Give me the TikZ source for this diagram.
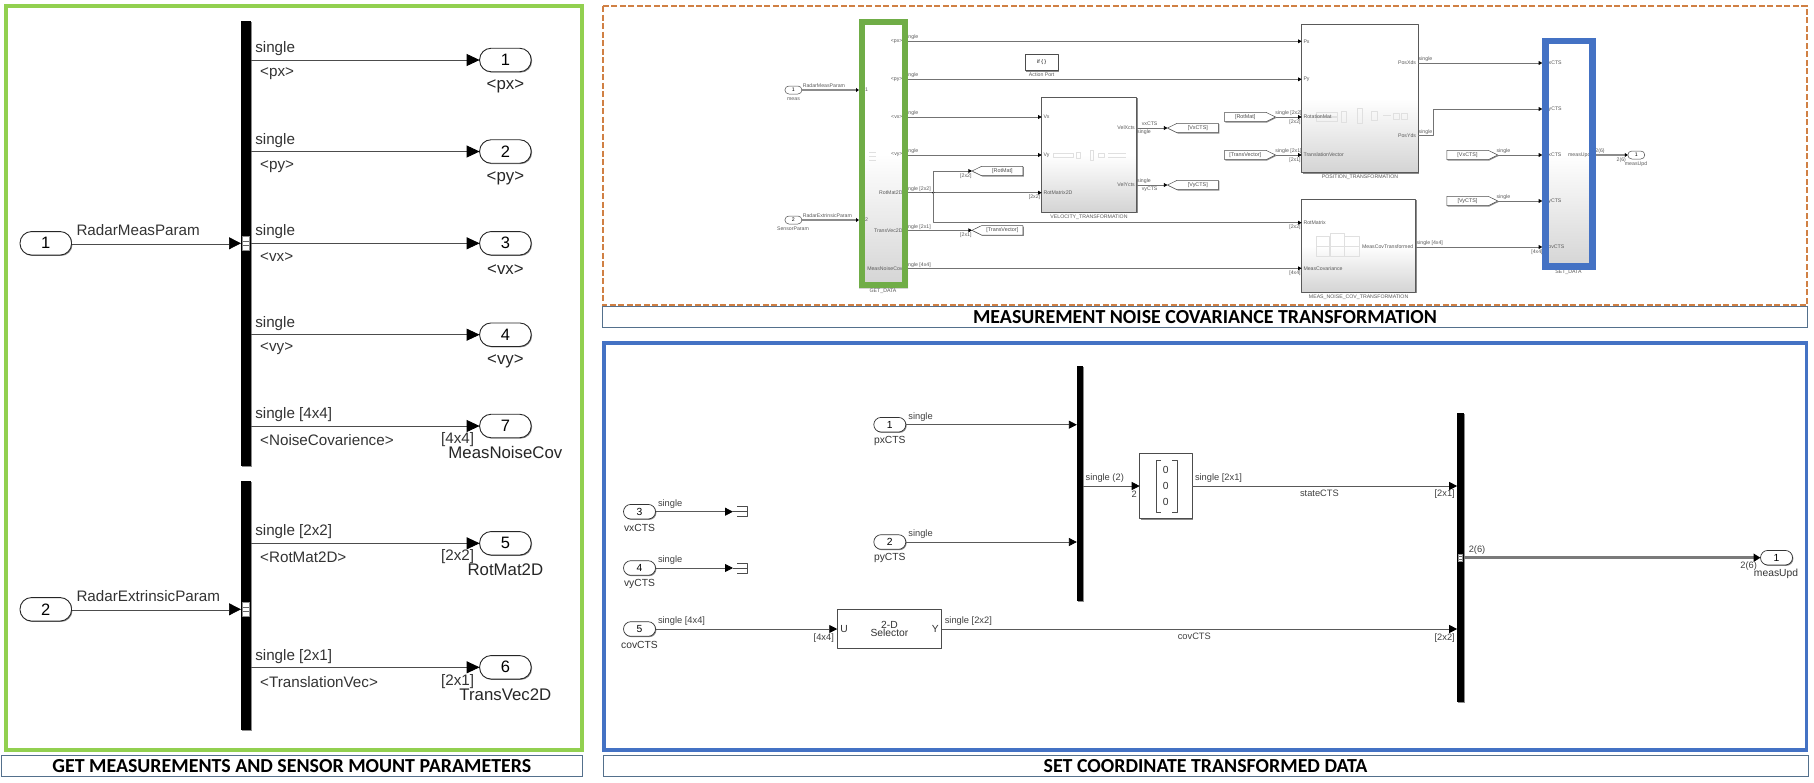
\documentclass[tikz,border=0pt]{standalone}
\usepackage{xcolor}
\usepackage{fontspec}
\setmainfont{Liberation Sans}
\newfontfamily\titlefont{Carlito}
\usepackage{tikz}
\usetikzlibrary{arrows.meta,calc,shadows,shapes.symbols}
\definecolor{panelgreen}{RGB}{146,208,80}
\definecolor{getgreen}{RGB}{112,173,71}
\definecolor{setblue}{RGB}{68,114,196}
\definecolor{dashorange}{RGB}{208,128,68}
\definecolor{titleline}{RGB}{84,112,140}
\begin{document}
\begin{tikzpicture}[x=1pt,y=-1pt,>=Stealth,line join=round,
  every node/.style={inner sep=0pt,outer sep=0pt},
  lblL/.style={font=\fontsize{15.2}{15.2}\selectfont,text=black!80,yshift=-1.5pt},
  nameL/.style={font=\fontsize{16.8}{16.8}\selectfont,text=black!85},
  lblB/.style={font=\fontsize{9.3}{9.3}\selectfont,text=black!75},
  nameB/.style={font=\fontsize{10.3}{10.3}\selectfont,text=black!80},
  lblT/.style={font=\fontsize{5.2}{5.2}\selectfont,text=black!65},
  shadowed/.style={general shadow={shadow xshift=.9pt,shadow yshift=-.9pt,fill=black!45}},
  pillL/.style={rectangle,rounded corners=11.5pt,draw=black!85,line width=.9pt,fill=white,minimum width=51.6pt,minimum height=23.5pt,font=\fontsize{16.5}{16.5}\selectfont,shadowed},
  pillB/.style={rectangle,rounded corners=7.3pt,draw=black!80,line width=.7pt,fill=white,minimum width=32pt,minimum height=14.6pt,font=\fontsize{10.3}{10.3}\selectfont,shadowed},
  pillT/.style={rectangle,rounded corners=4pt,draw=black!70,line width=.5pt,fill=white,minimum width=17pt,minimum height=8pt,font=\fontsize{5.2}{5.2}\selectfont},
  barbox/.style={rectangle,fill=black,shadowed},
  portmark/.style={rectangle,fill=white,draw=black!45,line width=.4pt,minimum width=#1*.54pt,minimum height=#1*1pt,
    path picture={\draw[black!60,line width=.5pt] ([yshift=#1/6*1pt]path picture bounding box.west) -- ([yshift=#1/6*1pt]path picture bounding box.east);
      \draw[black!60,line width=.5pt] ([yshift=-#1/6*1pt]path picture bounding box.west) -- ([yshift=-#1/6*1pt]path picture bounding box.east);}},
  sigL/.style={-{Triangle[length=13pt,width=12pt,color=black]},line width=.9pt,draw=black!70},
  busL/.style={-{Triangle[length=12pt,width=12pt,color=black]},line width=.7pt,draw=black!70,double=white,double distance=1.7pt},
  sigB/.style={-{Triangle[length=8pt,width=8pt,color=black]},line width=.8pt,draw=black!65},
  busB/.style={-{Triangle[length=7pt,width=8pt,color=black]},line width=3pt,draw=black!52},
  sigT/.style={-{Triangle[length=3.6pt,width=3.8pt,color=black]},line width=.75pt,draw=black!55},
  busT/.style={-{Triangle[length=3pt,width=3.8pt,color=black]},line width=2.3pt,draw=black!45},
  graded/.style={rectangle,top color=white,bottom color=black!17,middle color=white},
  simblock/.style={graded,draw=black!65,line width=.7pt,shadowed},
  plainblock/.style={rectangle,draw=black!70,line width=.7pt,fill=white,shadowed},
  gotobox/.style={signal,signal to=west,signal pointer angle=52,draw=black!70,line width=.5pt,fill=white,minimum width=51pt,minimum height=9.4pt,font=\fontsize{5.4}{5.4}\selectfont,text=black!70,shadowed},
  frombox/.style={signal,signal to=east,signal pointer angle=52,draw=black!70,line width=.5pt,fill=white,minimum width=51pt,minimum height=9.4pt,font=\fontsize{5.4}{5.4}\selectfont,text=black!70,shadowed},
  faint/.style={draw=black!12,line width=.35pt},
  termline/.style={draw=black!70,line width=.7pt},
  panelline/.style={line join=miter},
  titlebox/.style={rectangle,draw=titleline,line width=.8pt,line join=miter,minimum height=21.7pt,font=\titlefont\bfseries\fontsize{19.9}{19.9}\selectfont}]
  \useasboundingbox (0,0) rectangle (1814,782);

  \draw[panelline,panelgreen,line width=4pt] (6,6.3) rectangle (582,749.7);
  \node[titlebox,minimum width=581.4pt] (titleget) at (291.8,765.8) {GET MEASUREMENTS AND SENSOR MOUNT PARAMETERS};
  \node[barbox,minimum width=10pt,minimum height=444.7pt] (bar1) at (246,243.35) {};
  \node[barbox,minimum width=10pt,minimum height=249.3pt] (bar2) at (246,605.35) {};
  \node[pillL] (in1) at (45.8,243.3) {1};
  \node[pillL] (in2) at (45.8,609.3) {2};
  \node[pillL] (out1) at (505.4,60) {1};
  \node[pillL] (out2) at (505.4,151.5) {2};
  \node[pillL] (out3) at (505.4,243.3) {3};
  \node[pillL] (out4) at (505.4,334.7) {4};
  \node[pillL] (out7) at (505.4,426) {7};
  \node[pillL] (out5) at (505.4,543.3) {5};
  \node[pillL] (out6) at (505.4,667.3) {6};
  \draw[busL] (in1.east) -- (bar1.west |- in1);
  \draw[busL] (in2.east) -- (bar2.west |- in2);
  \draw[sigL] (bar1.east |- out1) -- (out1.west);
  \draw[sigL] (bar1.east |- out2) -- (out2.west);
  \draw[sigL] (bar1.east |- out3) -- (out3.west);
  \draw[sigL] (bar1.east |- out4) -- (out4.west);
  \draw[sigL] (bar1.east |- out7) -- (out7.west);
  \draw[sigL] (bar2.east |- out5) -- (out5.west);
  \draw[sigL] (bar2.east |- out6) -- (out6.west);
  \node[portmark=14] (mark1) at (245.8,243.3) {};
  \node[portmark=14] (mark2) at (245.8,609.3) {};
  \node[lblL,anchor=west] (sigmeas) at (76.5,228.5) {RadarMeasParam};
  \node[lblL,anchor=west] (sigext) at (76.5,594.8) {RadarExtrinsicParam};
  \node[lblL,anchor=west] (s1) at (255.3,46.7) {single};
  \node[lblL,anchor=west] (s2) at (255.3,139) {single};
  \node[lblL,anchor=west] (s3) at (255.3,230.3) {single};
  \node[lblL,anchor=west] (s4) at (255.3,321.7) {single};
  \node[lblL,anchor=west] (s7) at (255.3,413) {single [4x4]};
  \node[lblL,anchor=west] (s5) at (255.3,530) {single [2x2]};
  \node[lblL,anchor=west] (s6) at (255.3,655) {single [2x1]};
  \node[lblL,anchor=west] (w1) at (260.2,72.3) {<px>};
  \node[lblL,anchor=west] (w2) at (260.2,164.7) {<py>};
  \node[lblL,anchor=west] (w3) at (260.2,255.7) {<vx>};
  \node[lblL,anchor=west] (w4) at (260.2,347) {<vy>};
  \node[lblL,anchor=west] (w7) at (260.2,438.3) {<NoiseCovarience>};
  \node[lblL,anchor=west] (w5) at (260.2,555.3) {<RotMat2D>};
  \node[lblL,anchor=west] (w6) at (260.2,680.7) {<TranslationVec>};
  \node[nameL] (n1) at (505.4,86) {<px>};
  \node[nameL] (n2) at (505.4,178.7) {<py>};
  \node[nameL] (n3) at (505.4,269.7) {<vx>};
  \node[nameL] (n4) at (505.4,361) {<vy>};
  \node[nameL] (n7) at (505.4,452.3) {MeasNoiseCov};
  \node[nameL] (n5) at (505.4,569.3) {RotMat2D};
  \node[nameL] (n6) at (505.4,694.7) {TransVec2D};
  \node[lblL,anchor=west] (d7) at (441.2,438.5) {[4x4]};
  \node[lblL,anchor=west] (d5) at (441.2,555.2) {[2x2]};
  \node[lblL,anchor=west] (d6) at (441.2,680.5) {[2x1]};

  \node[graded,minimum width=49pt,minimum height=269pt] (getdata) at (883.5,153.5) {};
  \node[simblock,minimum width=95pt,minimum height=115pt] (velblock) at (1089.2,154.8) {};
  \node[simblock,minimum width=116.6pt,minimum height=148.7pt] (posblock) at (1360,98.4) {};
  \node[simblock,minimum width=114pt,minimum height=93pt] (noiseblock) at (1358.7,245.8) {};
  \node[graded,minimum width=53.4pt,minimum height=231.7pt] (setdata) at (1569,153.85) {};
  \node[plainblock,minimum width=33.3pt,minimum height=16.4pt] (actionport) at (1041.7,62.5) {\fontsize{5.2}{5.2}\selectfont if \{ \}};
  \draw[faint] (869,152) -- (876,152) (869,156) -- (876,156) (869,160) -- (876,160);
  \draw[faint] (1053,153) rectangle (1073,157) (1076,152) rectangle (1080,158) (1090,150) rectangle (1093,160) (1098,153) rectangle (1104,157) (1108,153) -- (1126,153) (1108,157) -- (1126,157);
  \draw[faint] (1316,112) rectangle (1337,116) (1316,117) rectangle (1337,121) (1341,111) rectangle (1346,122) (1357,108) rectangle (1362,123) (1371,111) rectangle (1377,120) (1383,115) -- (1391,115) (1393,113) rectangle (1399,119) (1401,113) rectangle (1407,119);
  \draw[faint] (1316,236) rectangle (1329,246) (1330,233) rectangle (1344,246) (1330,246) rectangle (1344,256) (1344,236) rectangle (1359,246) (1344,246) rectangle (1359,256) (1316,246) rectangle (1329,256);
  \node[pillT] (topin1) at (793.4,90) {1};
  \node[pillT] (topin2) at (793.4,220) {2};
  \node[pillT] (topout) at (1636.3,155) {1};
  \node[gotobox] (gotorot) at (1002.3,171) {[RotMat]};
  \node[gotobox] (gototrans) at (1002.3,230.3) {[TransVector]};
  \node[gotobox] (gotovx) at (1197.8,128) {[VxCTS]};
  \node[gotobox] (gotovy) at (1197.8,185) {[VyCTS]};
  \node[frombox] (fromrot) at (1245.2,117) {[RotMat]};
  \node[frombox] (fromtrans) at (1245.2,155) {[TransVector]};
  \node[frombox] (fromvx) at (1467.5,155) {[VxCTS]};
  \node[frombox] (fromvy) at (1467.5,201) {[VyCTS]};
  \node[lblT,anchor=east] (gpx) at (902.5,41.3) {<px>};
  \node[lblT,anchor=east] (gpy) at (902.5,79.3) {<py>};
  \node[lblT,anchor=east] (gvx) at (902.5,117) {<vx>};
  \node[lblT,anchor=east] (gvy) at (902.5,155) {<vy>};
  \node[lblT,anchor=east] (grot) at (902.5,192.7) {RotMat2D};
  \node[lblT,anchor=east] (gtrans) at (902.5,230.3) {TransVec2D};
  \node[lblT,anchor=east] (gnoise) at (902.5,268.3) {MeasNoiseCov};
  \node[lblT,anchor=west] (gin1) at (861,90) {in1};
  \node[lblT,anchor=west] (gin2) at (861,220) {in2};
  \node[lblT,anchor=west] (ppx) at (1303.5,41.3) {Px};
  \node[lblT,anchor=west] (ppy) at (1303.5,79.3) {Py};
  \node[lblT,anchor=west] (prot) at (1303.5,117) {RotationMat};
  \node[lblT,anchor=west] (ptrans) at (1303.5,155) {TranslationVector};
  \node[lblT,anchor=east] (pxds) at (1416,63) {PosXds};
  \node[lblT,anchor=east] (pyds) at (1416,135.7) {PosYds};
  \node[lblT,anchor=west] (vvx) at (1043.5,117) {Vx};
  \node[lblT,anchor=west] (vvy) at (1043.5,155) {Vy};
  \node[lblT,anchor=west] (vrot) at (1043.5,192.7) {RotMatrix2D};
  \node[lblT,anchor=east] (vxcts) at (1134.8,128) {VelXcts};
  \node[lblT,anchor=east] (vycts) at (1134.8,185) {VelYcts};
  \node[lblT,anchor=west] (nrot) at (1303.5,222.7) {RotMatrix};
  \node[lblT,anchor=west] (ncov) at (1303.5,268.3) {MeasCovariance};
  \node[lblT,anchor=east] (ntrans) at (1413.3,247) {MeasCovTransformed};
  \node[lblT,anchor=west] (spx) at (1545.8,63) {pxCTS};
  \node[lblT,anchor=west] (spy) at (1545.8,109) {pyCTS};
  \node[lblT,anchor=west] (svx) at (1545.8,155) {vxCTS};
  \node[lblT,anchor=west] (svy) at (1545.8,201) {vyCTS};
  \node[lblT,anchor=west] (scov) at (1545.8,247) {covCTS};
  \node[lblT,anchor=east] (supd) at (1590.4,155) {measUpd};
  \draw[busT] (topin1.east) -- (getdata.west |- topin1);
  \draw[busT] (topin2.east) -- (getdata.west |- topin2);
  \draw[sigT] (getdata.east |- gpx) -- (posblock.west |- ppx);
  \draw[sigT] (getdata.east |- gpy) -- (posblock.west |- ppy);
  \draw[sigT] (getdata.east |- gvx) -- (velblock.west |- vvx);
  \draw[sigT] (getdata.east |- gvy) -- (velblock.west |- vvy);
  \draw[sigT] (getdata.east |- grot) -- (velblock.west |- vrot);
  \draw[sigT] (getdata.east |- gtrans) -- (gototrans.west);
  \draw[sigT] (getdata.east |- gnoise) -- (noiseblock.west |- ncov);
  \coordinate (rotjunc) at (933.3,192.7);
  \fill[black] (rotjunc) circle (1.2pt);
  \draw[sigT] (rotjunc) |- (gotorot.west);
  \draw[sigT] (rotjunc) |- (noiseblock.west |- nrot);
  \draw[sigT] (velblock.east |- vxcts) -- (gotovx.west);
  \draw[sigT] (velblock.east |- vycts) -- (gotovy.west);
  \draw[sigT] (fromrot.east) -- (posblock.west |- prot);
  \draw[sigT] (fromtrans.east) -- (posblock.west |- ptrans);
  \draw[sigT] (posblock.east |- pxds) -- (setdata.west |- spx);
  \draw[sigT] (posblock.east |- pyds) -- ++(14.7,0) |- (setdata.west |- spy);
  \draw[sigT] (fromvx.east) -- (setdata.west |- svx);
  \draw[sigT] (fromvy.east) -- (setdata.west |- svy);
  \draw[sigT] (noiseblock.east |- ntrans) -- (setdata.west |- scov);
  \draw[busT] (setdata.east |- supd) -- (topout.west);
  \node[lblT] (tmeas) at (793.5,98.7) {meas};
  \node[lblT] (tsensor) at (793,228.7) {SensorParam};
  \node[lblT,anchor=west] (tsigm) at (802.8,85.7) {RadarMeasParam};
  \node[lblT,anchor=west] (tsige) at (802.8,216) {RadarExtrinsicParam};
  \node[lblT] (tget) at (883,291) {GET\_DATA};
  \node[lblT] (taction) at (1041.7,75) {Action Port};
  \node[lblT] (tvel) at (1089,216.7) {VELOCITY\_TRANSFORMATION};
  \node[lblT] (tpos) at (1360,177) {POSITION\_TRANSFORMATION};
  \node[lblT] (tnoise) at (1358.6,296.7) {MEAS\_NOISE\_COV\_TRANSFORMATION};
  \node[lblT] (tset) at (1568.4,272) {SET\_DATA};
  \node[lblT,anchor=east] (ts1) at (918.3,37.3) {single};
  \node[lblT,anchor=east] (ts2) at (918.3,75) {single};
  \node[lblT,anchor=east] (ts3) at (918.3,113) {single};
  \node[lblT,anchor=east] (ts4) at (918.3,151) {single};
  \node[lblT,anchor=east] (ts5) at (930.7,189.3) {single [2x2]};
  \node[lblT,anchor=east] (ts6) at (930.7,226.7) {single [2x1]};
  \node[lblT,anchor=east] (ts7) at (930.7,264.7) {single [4x4]};
  \node[lblT] (td1) at (965.8,175.7) {[2x2]};
  \node[lblT] (td2) at (965.8,235.3) {[2x1]};
  \node[lblT] (td3) at (1034.5,197.3) {[2x2]};
  \node[lblT] (tvxa) at (1149.6,123.8) {vxCTS};
  \node[lblT] (tvxb) at (1144,132.5) {single};
  \node[lblT] (tvya) at (1144,180.7) {single};
  \node[lblT] (tvyb) at (1149.6,189) {vyCTS};
  \node[lblT] (tra) at (1288.5,112.7) {single [2x2]};
  \node[lblT] (trb) at (1295,121.7) {[2x2]};
  \node[lblT] (ttra) at (1288.5,150.7) {single [2x1]};
  \node[lblT] (ttrb) at (1295,160) {[2x1]};
  \node[lblT] (tnra) at (1295,227) {[2x2]};
  \node[lblT] (tnrb) at (1295,273) {[4x4]};
  \node[lblT] (tpa) at (1425.5,59) {single};
  \node[lblT] (tpb) at (1425.5,132) {single};
  \node[lblT] (tfa) at (1503.4,151) {single};
  \node[lblT] (tfb) at (1503.4,197) {single};
  \node[lblT,anchor=west] (tcv) at (1416.6,243) {single [4x4]};
  \node[lblT] (tcd) at (1537,251.7) {[4x4]};
  \node[lblT] (tua) at (1600,150.7) {2(6)};
  \node[lblT] (tub) at (1621.3,159.7) {2(6)};
  \node[lblT] (tuc) at (1636,163.7) {measUpd};
  \node[rectangle,panelline,draw=getgreen,line width=6pt,minimum width=43pt,minimum height=263pt] (getframe) at (883.5,153.5) {};
  \node[rectangle,panelline,draw=setblue,line width=6.3pt,minimum width=47.1pt,minimum height=225.4pt] (setframe) at (1569,153.85) {};
  \draw[panelline,dashorange,line width=2pt,dash pattern=on 6pt off 2.5pt] (602.8,6) rectangle (1806.9,305);
  \node[titlebox,minimum width=1205.3pt] (titlenoise) at (1205,316.8) {MEASUREMENT NOISE COVARIANCE TRANSFORMATION};

  \draw[panelline,setblue,line width=3.8pt] (604,343) rectangle (1806.5,750);
  \node[titlebox,minimum width=1205pt] (titleset) at (1205.5,765.8) {SET COORDINATE TRANSFORMED DATA};
  \node[barbox,minimum width=6.3pt,minimum height=234.7pt] (muxbar) at (1080,483.35) {};
  \node[barbox,minimum width=6.7pt,minimum height=288.4pt] (outbar) at (1460.5,557.5) {};
  \node[pillB] (bin1) at (889.8,424.7) {1};
  \node[pillB] (bin2) at (889.8,542) {2};
  \node[pillB] (bin3) at (639.5,511.7) {3};
  \node[pillB] (bin4) at (639.5,568) {4};
  \node[pillB] (bin5) at (639.5,629) {5};
  \node[pillB] (bout) at (1776.5,557.7) {1};
  \node[plainblock,minimum width=52.6pt,minimum height=65.4pt] (vecblock) at (1166,486) {};
  \node[plainblock,minimum width=104.3pt,minimum height=39pt] (selector) at (889.4,628.8) {};
  \coordinate (term3) at (733,511.7);
  \coordinate (term4) at (733,568);
  \draw[sigB] (bin3.east) -- (term3);
  \draw[sigB] (bin4.east) -- (term4);
  \draw[termline] (term3) -- ++(14,0) ([xshift=4pt,yshift=5pt]term3) -- ++(10,0) -- ++(0,10) -- ++(-10,0);
  \draw[termline] (term4) -- ++(14,0) ([xshift=4pt,yshift=5pt]term4) -- ++(10,0) -- ++(0,10) -- ++(-10,0);
  \draw[sigB] (bin1.east) -- (muxbar.west |- bin1);
  \draw[sigB] (bin2.east) -- (muxbar.west |- bin2);
  \draw[sigB] (bin5.east) -- (selector.west |- bin5);
  \draw[sigB] (muxbar.east |- vecblock) -- (vecblock.west);
  \draw[sigB] (vecblock.east) -- (outbar.west |- vecblock);
  \draw[sigB] (selector.east |- bin5) -- (outbar.west |- bin5);
  \draw[busB] (outbar.east |- bout) -- (bout.west);
  \node[portmark=7.7] (mark3) at (1460.5,557.7) {};
  \draw[black!70,line width=.6pt] ([shift={(-5,-26)}]vecblock.center) -- ++(-5,0) -- ++(0,52) -- ++(5,0) ([shift={(6,-26)}]vecblock.center) -- ++(5,0) -- ++(0,52) -- ++(-5,0);
  \node[nameB] (zero1) at (1165.8,470) {0};
  \node[nameB] (zero2) at (1165.8,486) {0};
  \node[nameB] (zero3) at (1165.8,502.3) {0};
  \node[nameB] (sel1) at (889.4,625) {2-D};
  \node[nameB] (sel2) at (889.4,633.3) {Selector};
  \node[nameB] (selu) at (844,629) {U};
  \node[nameB] (sely) at (935.3,629) {Y};
  \node[nameB] (bn1) at (889.8,440.7) {pxCTS};
  \node[nameB] (bn2) at (889.8,558) {pyCTS};
  \node[nameB] (bn3) at (639.5,527.7) {vxCTS};
  \node[nameB] (bn4) at (639.5,583.7) {vyCTS};
  \node[nameB] (bn5) at (639.5,645) {covCTS};
  \node[nameB] (bnout) at (1776,574) {measUpd};
  \node[lblB,anchor=west] (bs1) at (908.4,416.7) {single};
  \node[lblB,anchor=west] (bs2) at (908.4,534) {single};
  \node[lblB,anchor=west] (bs3) at (658,504) {single};
  \node[lblB,anchor=west] (bs4) at (658,560) {single};
  \node[lblB,anchor=west] (bs5) at (658,621) {single [4x4]};
  \node[lblB,anchor=west] (bs6) at (1085.6,478) {single (2)};
  \node[lblB,anchor=west] (bs7) at (1195,478) {single [2x1]};
  \node[lblB,anchor=west] (bs8) at (944.8,621) {single [2x2]};
  \node[lblB] (bd1) at (823.8,637.7) {[4x4]};
  \node[lblB] (bd2) at (1134.2,494) {2};
  \node[lblB] (bd3) at (1444.7,494.3) {[2x1]};
  \node[lblB] (bd4) at (1444.7,637.7) {[2x2]};
  \node[lblB] (bstate) at (1319.4,493.7) {stateCTS};
  \node[lblB] (bcov) at (1194.3,636.7) {covCTS};
  \node[lblB] (bua) at (1477,549.7) {2(6)};
  \node[lblB] (bub) at (1748.6,566) {2(6)};
\end{tikzpicture}
\end{document}
